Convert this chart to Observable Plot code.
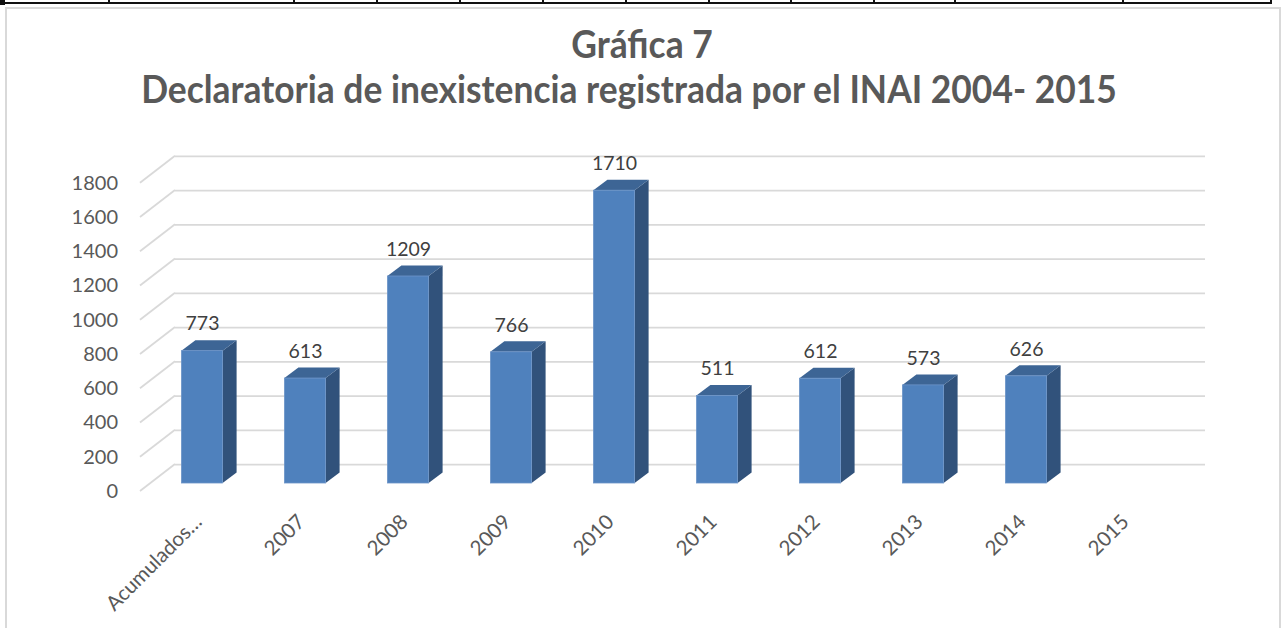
<!DOCTYPE html>
<html>
<head>
<meta charset="utf-8">
<script src="https://cdn.jsdelivr.net/npm/d3@7"></script>
<script src="https://cdn.jsdelivr.net/npm/@observablehq/plot@0.6"></script>
<style>
  html, body { margin: 0; padding: 0; background: #fff; }
  #wrap { position: relative; width: 1282px; height: 628px; overflow: hidden; font-family: Lato, "Open Sans", sans-serif; }
  #title { position: relative; height: 130px; }
  .t { position: absolute; transform: translateX(-50%) scaleY(1.06); transform-origin: 50% 88%; white-space: nowrap; font-weight: 700; font-size: 35.4px; line-height: 36px; color: #595959; }
  #chart { position: relative; height: 498px; }
  #decor { position: absolute; left: 0; top: 0; width: 1282px; height: 628px; pointer-events: none; }
  #box { position: absolute; left: 5px; top: 7px; width: 1276px; height: 700px; border: 2px solid #d9d9d9; box-sizing: border-box; }
  #topline { position: absolute; left: 0; top: 2px; width: 1272px; height: 2px; background: #111; }
  #corner { position: absolute; left: 0; top: 0; width: 5px; height: 5px; background: #111; }
  .tk { position: absolute; top: 0; width: 2px; height: 4px; background: #111; }
</style>
</head>
<body>
<div id="wrap">
  <div id="title">
    <div class="t" style="left:642px; top:27px;">Gráfica 7</div>
    <div class="t" style="left:629px; top:72px;">Declaratoria de inexistencia registrada por el INAI 2004- 2015</div>
  </div>
  <div id="chart"></div>
  <div id="decor">
    <div id="box"></div>
    <div id="topline"></div>
    <div id="corner"></div>
    <div class="tk" style="left:108px"></div>
    <div class="tk" style="left:293px"></div>
    <div class="tk" style="left:376px"></div>
    <div class="tk" style="left:459px"></div>
    <div class="tk" style="left:542px"></div>
    <div class="tk" style="left:625px"></div>
    <div class="tk" style="left:708px"></div>
    <div class="tk" style="left:790px"></div>
    <div class="tk" style="left:873px"></div>
    <div class="tk" style="left:954px"></div>
    <div class="tk" style="left:1122px"></div>
    <div class="tk" style="left:1270px"></div>
  </div>
</div>
<script>
// ---- data ----
const categories = ["Acumulados…", "2007", "2008", "2009", "2010", "2011", "2012", "2013", "2014", "2015"];
const values = [773, 613, 1209, 766, 1710, 511, 612, 573, 626, null];
const yTicks = [0, 200, 400, 600, 800, 1000, 1200, 1400, 1600, 1800];

const data = categories.map((c, i) => ({category: c, value: values[i]}));
const bars = data.filter(d => d.value != null);

// ---- 3D look (pixel offsets relative to the bars' front plane) ----
const FRONT = {dx: -10.5, dy: 8};   // front edge of the floor / axis labels
const BACK = {dx: 24.5, dy: -19};   // back wall
const DEPTH = {dx: 14, dy: -10.5};  // depth of each column
const C_FRONT = "#4f81bd", C_TOP = "#3d6595", C_SIDE = "#31527b", C_GRID = "#d9d9d9";

function floorLines(index, scales, vals, dims) {
  const y = scales.y;
  const x0 = dims.marginLeft;
  const g = d3.create("svg:g").attr("stroke", C_GRID).attr("stroke-width", 1.75).attr("fill", "none");
  for (const t of yTicks) {
    g.append("line")
      .attr("x1", x0 + FRONT.dx).attr("y1", y(t) + FRONT.dy)
      .attr("x2", x0 + BACK.dx).attr("y2", y(t) + BACK.dy);
  }
  return g.node();
}

function barFaces(index, scales, vals, dims) {
  const {x, y} = scales;
  const bw = typeof x.bandwidth === "function" ? x.bandwidth() : x.bandwidth;
  const g = d3.create("svg:g");
  for (const d of bars) {
    const x0 = x(d.category), x1 = x0 + bw, yt = y(d.value), yb = y(0);
    g.append("polygon")
      .attr("points", [[x1, yt], [x1 + DEPTH.dx, yt + DEPTH.dy], [x1 + DEPTH.dx, yb + DEPTH.dy], [x1, yb]].join(" "))
      .attr("fill", C_SIDE);
    g.append("polygon")
      .attr("points", [[x0, yt], [x1, yt], [x1 + DEPTH.dx, yt + DEPTH.dy], [x0 + DEPTH.dx, yt + DEPTH.dy]].join(" "))
      .attr("fill", C_TOP);
  }
  return g.node();
}

const chart = Plot.plot({
  width: 1282,
  height: 498,
  marginLeft: 150.5,
  marginRight: 101.5,
  marginTop: 0,
  marginBottom: 0,
  style: {fontFamily: "Lato, 'Open Sans', sans-serif", background: "transparent", overflow: "visible"},
  x: {type: "band", domain: categories, paddingInner: 0.6, paddingOuter: 0.3, round: false, axis: null},
  y: {domain: [0, 1800], range: [353, 44.8], axis: null},
  marks: [
    Plot.ruleY(yTicks, {dx: BACK.dx, dy: BACK.dy, stroke: C_GRID, strokeWidth: 1.75}),
    floorLines,
    Plot.text(yTicks, {y: d => d, text: d => String(d), frameAnchor: "left", textAnchor: "end",
      dx: -33, dy: FRONT.dy, fill: "#595959", fontSize: 20}),
    barFaces,
    Plot.barY(bars, {x: "category", y: "value", fill: C_FRONT, stroke: "#6d95c9", strokeWidth: 0.8}),
    Plot.text(bars, {x: "category", y: "value", text: d => String(d.value), dy: -27,
      fill: "#404040", fontSize: 19.5}),
    Plot.text(categories, {x: d => d, y: () => 0, text: d => d, rotate: -45, textAnchor: "end",
      dx: -4, dy: 35, fill: "#595959", fontSize: 20.5})
  ]
});
document.getElementById("chart").appendChild(chart);
</script>
</body>
</html>
